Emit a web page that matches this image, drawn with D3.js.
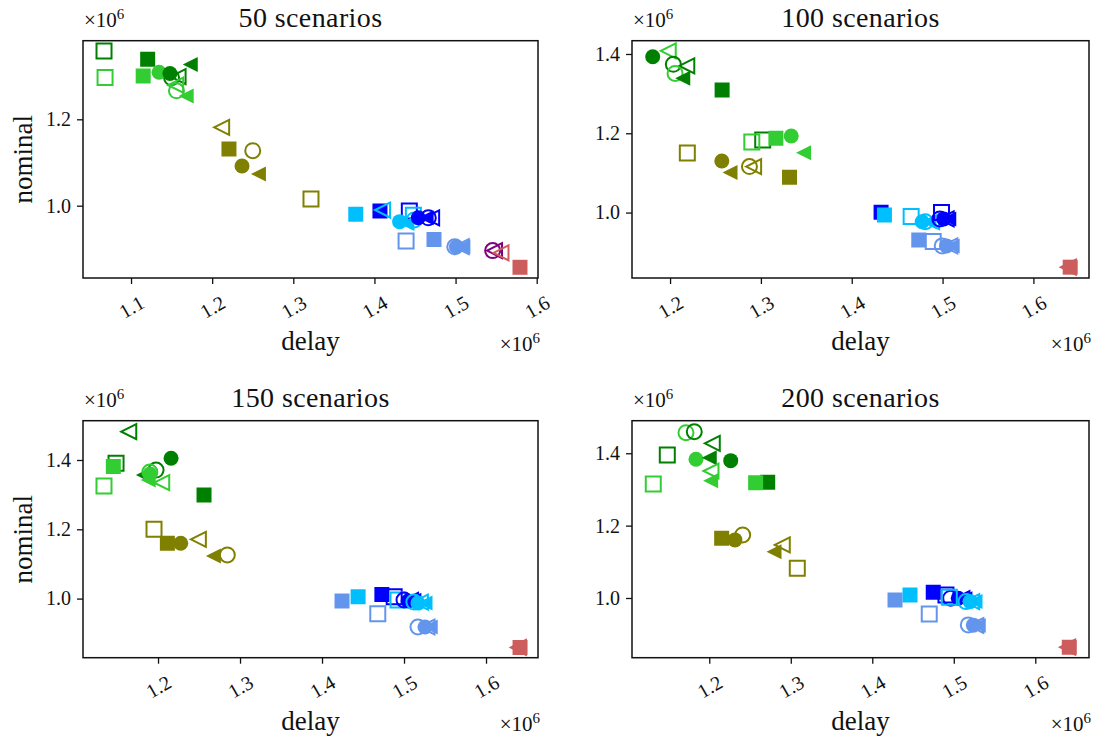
<!DOCTYPE html>
<html>
<head>
<meta charset="utf-8">
<script src="https://cdn.jsdelivr.net/npm/d3@7"></script>
<style>
  body { margin: 0; background: #fff; }
  svg text { font-family: "Liberation Serif", "DejaVu Serif", serif; fill: #111; }
</style>
</head>
<body>
<div></div>
<script>
// marker colours, by short key
var colours = { g: "#008000", lg: "#32cd32", ol: "#808000", ds: "#00bfff",
                b: "#0000ff", cf: "#6495ed", pu: "#800080", ir: "#cd5c5c" };

// points: [colour, marker, delay (x1e6), nominal (x1e6)]
// marker: s/S square filled/open, o/O circle, t/T left triangle
var points50 = [
  ["g","S",1.0667,1.358], ["lg","S",1.068,1.297], ["g","s",1.1205,1.339], ["lg","s",1.115,1.300],
  ["g","O",1.150,1.296], ["g","T",1.158,1.299], ["lg","T",1.155,1.279], ["lg","O",1.156,1.266],
  ["lg","o",1.1345,1.309], ["g","o",1.148,1.306], ["g","t",1.173,1.327], ["lg","t",1.168,1.254],
  ["ol","T",1.2117,1.1815], ["ol","s",1.2207,1.1313], ["ol","O",1.25,1.1273], ["ol","o",1.2368,1.092],
  ["ol","t",1.257,1.0734], ["ol","S",1.3218,1.0155],
  ["ds","s",1.377,0.980], ["b","s",1.4068,0.988], ["ds","T",1.41,0.990], ["b","S",1.443,0.988],
  ["ds","S",1.448,0.978], ["ds","O",1.449,0.967], ["ds","o",1.431,0.963], ["ds","t",1.44,0.959],
  ["b","o",1.454,0.972], ["b","t",1.4637,0.972], ["b","O",1.4664,0.972], ["b","T",1.4705,0.972],
  ["cf","S",1.439,0.918], ["cf","s",1.4734,0.922], ["cf","O",1.499,0.905], ["cf","o",1.501,0.905],
  ["cf","t",1.509,0.905], ["cf","T",1.507,0.905],
  ["pu","O",1.5457,0.896], ["pu","T",1.548,0.896], ["ir","T",1.556,0.891], ["ir","s",1.5794,0.8574]
];

var points100 = [
  ["g","o",1.1809,1.393], ["lg","T",1.198,1.408], ["g","O",1.2036,1.374], ["g","T",1.2184,1.370],
  ["lg","O",1.2055,1.351], ["g","t",1.214,1.339], ["g","s",1.2573,1.309], ["g","S",1.302,1.183],
  ["lg","S",1.29,1.178], ["lg","s",1.3165,1.1875], ["lg","o",1.3334,1.193], ["lg","t",1.347,1.151],
  ["ol","S",1.219,1.150], ["ol","o",1.257,1.130], ["ol","t",1.266,1.101], ["ol","O",1.2874,1.116],
  ["ol","T",1.292,1.116], ["ol","s",1.3315,1.089],
  ["b","s",1.4323,1.001], ["ds","s",1.436,0.994], ["ds","S",1.4654,0.990],
  ["ds","o",1.4775,0.977], ["ds","O",1.481,0.977], ["ds","t",1.485,0.977], ["ds","T",1.488,0.977],
  ["b","S",1.4988,1.0], ["b","O",1.497,0.984], ["b","o",1.5013,0.984], ["b","T",1.504,0.984], ["b","t",1.5068,0.984],
  ["cf","s",1.4738,0.931], ["cf","S",1.4897,0.927], ["cf","O",1.4996,0.916], ["cf","o",1.5043,0.916],
  ["cf","T",1.508,0.916], ["cf","t",1.5106,0.916],
  ["ir","T",1.6385,0.8623], ["ir","s",1.6405,0.8623]
];

var points150 = [
  ["g","T",1.1643,1.4817], ["g","S",1.1488,1.3905], ["g","o",1.2159,1.405], ["g","O",1.1976,1.371],
  ["g","t",1.1821,1.357], ["g","s",1.2561,1.299],
  ["lg","s",1.1455,1.381], ["lg","S",1.1341,1.325], ["lg","O",1.19,1.365], ["lg","o",1.1902,1.3596],
  ["lg","t",1.188,1.342], ["lg","T",1.2045,1.3345],
  ["ol","S",1.1951,1.200], ["ol","s",1.2114,1.1596], ["ol","o",1.2277,1.1596], ["ol","T",1.2492,1.171],
  ["ol","t",1.2675,1.123], ["ol","O",1.2845,1.126],
  ["cf","s",1.4244,0.993], ["cf","S",1.468,0.956], ["cf","O",1.517,0.918], ["cf","o",1.5256,0.918],
  ["cf","T",1.528,0.918], ["cf","t",1.532,0.918],
  ["ds","s",1.444,1.005], ["b","s",1.473,1.012], ["b","S",1.488,1.005], ["ds","S",1.4927,0.996],
  ["b","O",1.5,0.996], ["b","o",1.505,0.993], ["b","T",1.508,0.995], ["b","t",1.512,0.995],
  ["ds","O",1.512,0.99], ["ds","o",1.517,0.987], ["ds","T",1.52,0.99], ["ds","t",1.5256,0.987],
  ["ir","T",1.6395,0.859], ["ir","s",1.6415,0.859]
];

var points200 = [
  ["lg","O",1.1714,1.457], ["g","O",1.1816,1.4597], ["g","T",1.2037,1.4276], ["g","S",1.1485,1.3953],
  ["lg","o",1.1837,1.3834], ["g","t",1.2,1.3878], ["g","o",1.2263,1.3796], ["lg","T",1.2021,1.351],
  ["lg","t",1.2017,1.324], ["lg","S",1.1313,1.315], ["g","s",1.2717,1.32], ["lg","s",1.2569,1.3188],
  ["ol","s",1.2152,1.165], ["ol","O",1.241,1.1743], ["ol","o",1.2315,1.1605], ["ol","T",1.2896,1.1467],
  ["ol","t",1.2794,1.128], ["ol","S",1.308,1.0823],
  ["cf","s",1.4279,0.9948], ["ds","s",1.4463,1.0086], ["cf","S",1.4699,0.956], ["b","s",1.4748,1.016],
  ["b","S",1.4904,1.0086], ["b","O",1.4962,0.9995], ["b","o",1.5055,0.9995], ["b","T",1.51,0.998],
  ["b","t",1.5137,0.998], ["ds","S",1.4945,1.002], ["ds","O",1.515,0.99], ["ds","o",1.5199,0.99],
  ["ds","T",1.522,0.99], ["ds","t",1.526,0.99],
  ["cf","O",1.5178,0.9257], ["cf","o",1.524,0.925], ["cf","T",1.527,0.924], ["cf","t",1.53,0.924],
  ["ir","T",1.6397,0.864], ["ir","s",1.6417,0.864]
];

var titles = ["50 scenarios", "100 scenarios", "150 scenarios", "200 scenarios"];
var xTicks = [[1.1, 1.2, 1.3, 1.4, 1.5, 1.6], [1.2, 1.3, 1.4, 1.5, 1.6],
              [1.2, 1.3, 1.4, 1.5, 1.6], [1.2, 1.3, 1.4, 1.5, 1.6]];
var yTicks = [[1.0, 1.2], [1.0, 1.2, 1.4], [1.0, 1.2, 1.4], [1.0, 1.2, 1.4]];
var xDomains = [[1.0408, 1.6016], [1.1581, 1.6612], [1.1085, 1.6634], [1.1052, 1.6659]];
var yDomains = [[0.8326, 1.382], [0.835, 1.4335], [0.8294, 1.5134], [0.835, 1.49]];
var allPoints = [points50, points100, points150, points200];

var svg = d3.select("div").append("svg").attr("width", 1093).attr("height", 744);

var boxes = [
  { x0: 83, x1: 538, y0: 40.7, y1: 278 },
  { x0: 632, x1: 1089, y0: 40.7, y1: 278 },
  { x0: 83, x1: 538, y0: 420.7, y1: 657.7 },
  { x0: 632, x1: 1089, y0: 420.7, y1: 657.7 }
];

var sq = 15;
var markerPath = function(m) {
  var h = sq / 2;
  if (m === "s") return d3.symbol().type(d3.symbolSquare).size(sq * sq)();
  if (m === "o") return d3.symbol().type(d3.symbolCircle).size(Math.PI * h * h)();
  // left-pointing triangle
  return "M" + (-h) + ",0L" + h + "," + (-h) + "L" + h + "," + h + "Z";
};

boxes.forEach(function(b, i) {
  var x = d3.scaleLinear().domain(xDomains[i]).range([b.x0, b.x1]);
  var y = d3.scaleLinear().domain(yDomains[i]).range([b.y1, b.y0]);
  var g = svg.append("g");

  // points
  var clip = "clip" + i;
  svg.append("clipPath").attr("id", clip).append("rect")
    .attr("x", b.x0).attr("y", b.y0).attr("width", b.x1 - b.x0).attr("height", b.y1 - b.y0);
  g.append("g").attr("clip-path", "url(#" + clip + ")")
    .selectAll("path")
    .data(allPoints[i])
    .enter()
    .append("path")
    .attr("transform", function(d) { return "translate(" + x(d[2]) + "," + y(d[3]) + ")"; })
    .attr("d", function(d) { return markerPath(d[1].toLowerCase()); })
    .attr("fill", function(d) { return d[1] === d[1].toLowerCase() ? colours[d[0]] : "none"; })
    .attr("stroke", function(d) { return d[1] === d[1].toLowerCase() ? "none" : colours[d[0]]; })
    .attr("stroke-width", 2);

  // axes
  var xAxis = d3.axisBottom(x).tickValues(xTicks[i]).tickSize(6).tickFormat(d3.format(".1f"));
  var yAxis = d3.axisLeft(y).tickValues(yTicks[i]).tickSize(6).tickFormat(d3.format(".1f"));

  var gx = g.append("g").attr("transform", "translate(0," + b.y1 + ")").call(xAxis);
  gx.select(".domain").remove();
  gx.selectAll(".tick line").attr("stroke", "#111").attr("stroke-width", 1.3);
  gx.selectAll(".tick text")
    .attr("font-size", 20)
    .attr("font-family", "Liberation Serif")
    .attr("fill", "#111")
    .attr("text-anchor", "middle")
    .attr("dy", null)
    .attr("y", null)
    .attr("dominant-baseline", "central")
    .attr("transform", "translate(0,29) rotate(-30)");

  var gy = g.append("g").attr("transform", "translate(" + b.x0 + ",0)").call(yAxis);
  gy.select(".domain").remove();
  gy.selectAll(".tick line").attr("stroke", "#111").attr("stroke-width", 1.3);
  gy.selectAll(".tick text")
    .attr("font-size", 20)
    .attr("font-family", "Liberation Serif")
    .attr("fill", "#111")
    .attr("x", -12);

  g.append("rect")
    .attr("x", b.x0).attr("y", b.y0)
    .attr("width", b.x1 - b.x0).attr("height", b.y1 - b.y0)
    .attr("fill", "none").attr("stroke", "#111").attr("stroke-width", 1.5);

  // title
  g.append("text")
    .attr("x", (b.x0 + b.x1) / 2).attr("y", b.y0 - 14)
    .attr("text-anchor", "middle").attr("font-size", 28)
    .attr("letter-spacing", 0.4)
    .text(titles[i]);

  // x label
  g.append("text")
    .attr("x", (b.x0 + b.x1) / 2).attr("y", b.y1 + 72)
    .attr("text-anchor", "middle").attr("font-size", 27)
    .text("delay");

  // y label, left column only
  if (i % 2 === 0) {
    g.append("text")
      .attr("transform", "translate(" + (b.x0 - 51) + "," + ((b.y0 + b.y1) / 2) + ") rotate(-90)")
      .attr("text-anchor", "middle").attr("font-size", 27)
      .text("nominal");
  }

  // offset texts
  var top = g.append("text").attr("x", b.x0 + 1).attr("y", b.y0 - 14).attr("font-size", 21);
  top.append("tspan").text("\u00d710");
  top.append("tspan").attr("dy", -8).attr("font-size", 15).text("6");

  var bot = g.append("text").attr("x", b.x1 + 2).attr("y", b.y1 + 73)
    .attr("text-anchor", "end").attr("font-size", 21);
  bot.append("tspan").text("\u00d710");
  bot.append("tspan").attr("dy", -8).attr("font-size", 15).text("6");
});
</script>
</body>
</html>
